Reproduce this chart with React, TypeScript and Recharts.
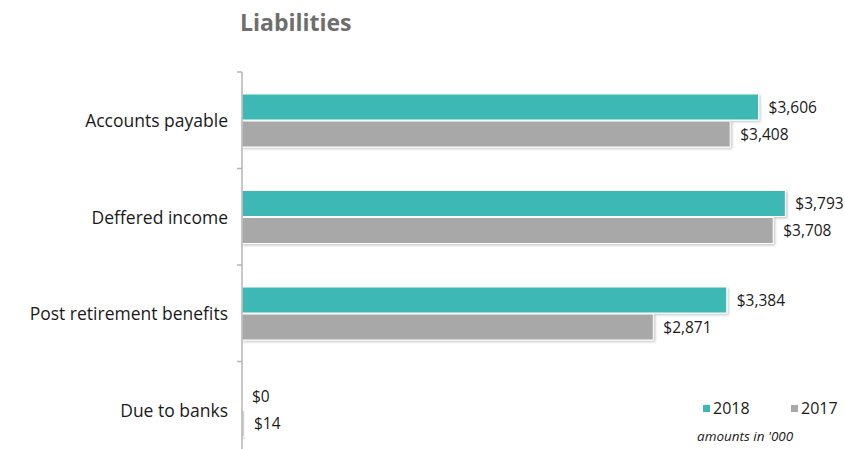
import React from 'react';
import { Bar, BarChart, LabelList, XAxis, YAxis } from 'recharts';

const categories = ['Accounts payable', 'Deffered income', 'Post retirement benefits', 'Due to banks'];
const values2018 = [3606, 3793, 3384, 0];
const values2017 = [3408, 3708, 2871, 14];
const seriesNames = ['2018', '2017'];

const TEAL = '#3cb8b4';
const GREY = '#a8a8a8';
const FONT = '"Open Sans", "Noto Sans", sans-serif';

const data = categories.map((name, i) => ({ name, y2018: values2018[i], y2017: values2017[i] }));
const legendItems = [
  { label: seriesNames[0], color: TEAL },
  { label: seriesNames[1], color: GREY },
];

const money = (v: unknown) => `$${Number(v).toLocaleString('en-US')}`;

// shadowed bar with a thin white edge
function ShadowBar(props: any) {
  const { x, y, width, height, fill } = props;
  if (width == null || height == null) return null;
  return (
    <rect
      x={x}
      y={y}
      width={Math.max(width, 0)}
      height={height}
      fill={fill}
      stroke="#ffffff"
      strokeWidth={1}
      filter="url(#barShadow)"
    />
  );
}

// label at band centre, tick mark at band boundary
function CategoryTick(props: any) {
  const { x, y, payload } = props;
  const half = payload?.offset ?? 48;
  const axisX = x + 5 + 9;
  return (
    <g>
      <line x1={axisX - 5} x2={axisX} y1={y - half} y2={y - half} stroke="#b5b5b5" strokeWidth={1.5} />
      <text x={x} y={y} textAnchor="end" dominantBaseline="central" fill="#1a1a1a" fontSize={17.5} fontFamily={FONT}>
        {payload.value}
      </text>
    </g>
  );
}

export default function App() {
  return (
    <div style={{ position: 'absolute', left: 0, top: 0, width: 845, height: 449, overflow: 'hidden', background: '#fff' }}>
      <div
        style={{
          position: 'absolute',
          left: 240,
          top: 6,
          fontFamily: FONT,
          fontWeight: 700,
          fontSize: 23,
          color: '#6e6e6e',
        }}
      >
        Liabilities
      </div>
      <BarChart
        width={845}
        height={470}
        data={data}
        layout="vertical"
        margin={{ top: 72, right: 30, left: 0, bottom: 12 }}
        barSize={26}
        barGap={1}
      >
        <defs>
          <filter id="barShadow" x="-5%" y="-20%" width="110%" height="160%">
            <feDropShadow dx={1.5} dy={1.5} stdDeviation={1} floodColor="#000" floodOpacity={0.22} />
          </filter>
        </defs>
        <XAxis type="number" domain={[0, 4000]} hide />
        <YAxis
          type="category"
          dataKey="name"
          width={242}
          tickLine={false}
          tickSize={5}
          tickMargin={9}
          axisLine={{ stroke: '#b5b5b5', strokeWidth: 1.5 }}
          tick={<CategoryTick />}
        />
        <Bar dataKey="y2018" name="2018" fill={TEAL} shape={<ShadowBar />} isAnimationActive={false}>
          <LabelList dataKey="y2018" position="right" offset={10} formatter={money} fill="#1a1a1a" fontSize={15.5} fontFamily={FONT} />
        </Bar>
        <Bar dataKey="y2017" name="2017" fill={GREY} shape={<ShadowBar />} isAnimationActive={false}>
          <LabelList dataKey="y2017" position="right" offset={10} formatter={money} fill="#1a1a1a" fontSize={15.5} fontFamily={FONT} />
        </Bar>
      </BarChart>
      <div
        style={{
          position: 'absolute',
          left: 703,
          top: 397,
          display: 'flex',
          fontFamily: FONT,
          fontSize: 16,
          color: '#1a1a1a',
        }}
      >
        {legendItems.map((it) => (
          <div key={it.label} style={{ display: 'flex', alignItems: 'center', width: 88 }}>
            <span style={{ display: 'inline-block', width: 7, height: 7, background: it.color, marginRight: 3 }} />
            {it.label}
          </div>
        ))}
      </div>
      <div
        style={{
          position: 'absolute',
          left: 697,
          top: 427,
          fontFamily: FONT,
          fontStyle: 'italic',
          fontSize: 13.5,
          color: '#1a1a1a',
        }}
      >
        amounts in '000
      </div>
    </div>
  );
}
